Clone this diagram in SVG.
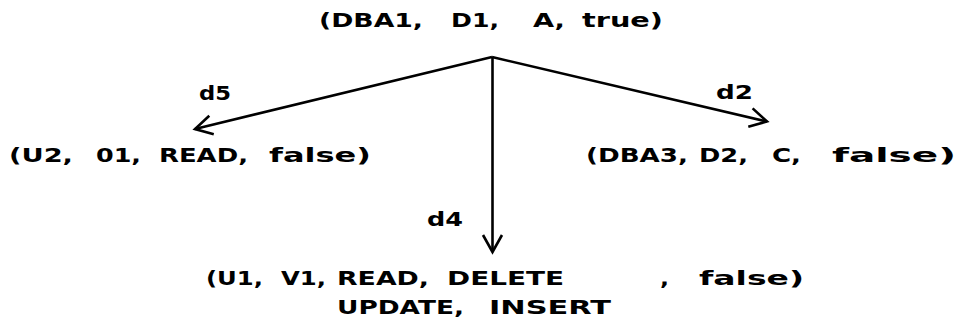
<svg xmlns="http://www.w3.org/2000/svg" width="959" height="323" viewBox="0 0 959 323">
  <style>
    .t { font-family: "DejaVu Sans", "Liberation Sans", sans-serif; font-weight: bold; font-size: 19px; fill: #000; }
    .edge { stroke: #000; stroke-width: 2.6; fill: none; }
  </style>
  <defs>
    <marker id="vhead" markerUnits="userSpaceOnUse" viewBox="-22 -13 26 26" markerWidth="26" markerHeight="26" refX="0" refY="0" orient="auto">
      <path d="M -17,-9.5 L 0,0 L -17,9.5" stroke="#000" stroke-width="2.6" fill="none" stroke-linejoin="miter"/>
    </marker>
  </defs>
  <rect width="959" height="323" fill="#fff"/>

  <!-- edges from the root tuple, with their labels -->
  <g id="connectors">
    <path class="edge" d="M 492,57 L 195,129" marker-end="url(#vhead)"/>
    <path class="edge" d="M 492,57 L 767,121.5" marker-end="url(#vhead)"/>
    <path class="edge" d="M 492.5,57 L 492.5,252" marker-end="url(#vhead)"/>
    <text class="t" x="199" y="100" textLength="32" lengthAdjust="spacingAndGlyphs">d5</text>
    <text class="t" x="716" y="99" textLength="37" lengthAdjust="spacingAndGlyphs">d2</text>
    <text class="t" x="427" y="226" textLength="36" lengthAdjust="spacingAndGlyphs">d4</text>
  </g>

  <g id="root">
    <text class="t" x="319" y="27" textLength="104" lengthAdjust="spacingAndGlyphs">(DBA1,</text>
    <text class="t" x="451" y="27" textLength="48" lengthAdjust="spacingAndGlyphs">D1,</text>
    <text class="t" x="533" y="27" textLength="32" lengthAdjust="spacingAndGlyphs">A,</text>
    <text class="t" x="582" y="27" textLength="81" lengthAdjust="spacingAndGlyphs">true)</text>
  </g>

  <g id="node-d5">
    <text class="t" x="9" y="162" textLength="64" lengthAdjust="spacingAndGlyphs">(U2,</text>
    <text class="t" x="96" y="162" textLength="45" lengthAdjust="spacingAndGlyphs">01,</text>
    <text class="t" x="159" y="162" textLength="89" lengthAdjust="spacingAndGlyphs">READ,</text>
    <text class="t" x="269" y="162" textLength="102" lengthAdjust="spacingAndGlyphs">false)</text>
  </g>

  <g id="node-d2">
    <text class="t" x="586" y="162" textLength="102" lengthAdjust="spacingAndGlyphs">(DBA3,</text>
    <text class="t" x="699" y="162" textLength="49" lengthAdjust="spacingAndGlyphs">D2,</text>
    <text class="t" x="772" y="162" textLength="29" lengthAdjust="spacingAndGlyphs">C,</text>
    <text class="t" x="832" y="162" textLength="124" lengthAdjust="spacingAndGlyphs">false)</text>
  </g>

  <g id="node-d4">
    <text class="t" x="206" y="285" textLength="57" lengthAdjust="spacingAndGlyphs">(U1,</text>
    <text class="t" x="281" y="285" textLength="45" lengthAdjust="spacingAndGlyphs">V1,</text>
    <text class="t" x="337" y="285" textLength="92" lengthAdjust="spacingAndGlyphs">READ,</text>
    <text class="t" x="447" y="285" textLength="117" lengthAdjust="spacingAndGlyphs">DELETE</text>
    <text class="t" x="660" y="285" textLength="9" lengthAdjust="spacingAndGlyphs">,</text>
    <text class="t" x="699" y="285" textLength="105" lengthAdjust="spacingAndGlyphs">false)</text>
    <text class="t" x="337" y="314" textLength="127" lengthAdjust="spacingAndGlyphs">UPDATE,</text>
    <text class="t" x="489" y="314" textLength="122" lengthAdjust="spacingAndGlyphs">INSERT</text>
  </g>
</svg>
